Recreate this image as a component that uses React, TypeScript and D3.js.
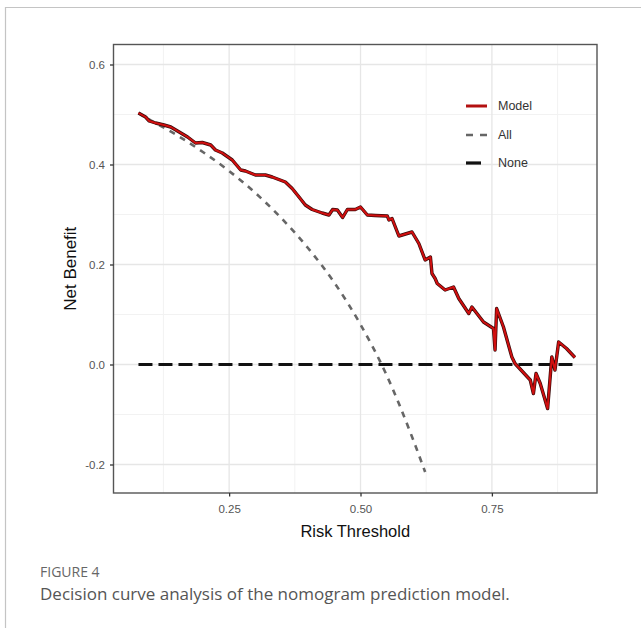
import React, { useEffect, useRef } from 'react';
import * as d3 from 'd3';

// risk thresholds and net benefit
const modelThreshold = [0.0775, 0.091, 0.098, 0.11, 0.126, 0.139, 0.155, 0.171, 0.186, 0.199, 0.215, 0.224, 0.237, 0.256, 0.272, 0.281, 0.3, 0.307, 0.319, 0.332, 0.357, 0.37, 0.383, 0.395, 0.408, 0.427, 0.44, 0.447, 0.456, 0.466, 0.475, 0.49, 0.5, 0.513, 0.528, 0.551, 0.554, 0.56, 0.573, 0.598, 0.611, 0.623, 0.633, 0.636, 0.642, 0.646, 0.661, 0.677, 0.687, 0.706, 0.712, 0.734, 0.753, 0.756, 0.759, 0.772, 0.788, 0.794, 0.823, 0.829, 0.834, 0.842, 0.856, 0.864, 0.87, 0.877, 0.892, 0.908];
const modelBenefit = [0.503, 0.495, 0.487, 0.483, 0.479, 0.475, 0.465, 0.455, 0.443, 0.444, 0.439, 0.429, 0.423, 0.409, 0.389, 0.387, 0.379, 0.379, 0.379, 0.375, 0.365, 0.352, 0.335, 0.319, 0.31, 0.303, 0.299, 0.31, 0.309, 0.294, 0.31, 0.31, 0.315, 0.299, 0.298, 0.297, 0.289, 0.292, 0.257, 0.265, 0.242, 0.209, 0.215, 0.182, 0.172, 0.162, 0.149, 0.155, 0.132, 0.102, 0.115, 0.085, 0.072, 0.029, 0.112, 0.075, 0.015, 0.002, -0.031, -0.058, -0.018, -0.038, -0.088, 0.015, -0.011, 0.045, 0.032, 0.014];

const allThreshold = [0.0775, 0.1, 0.15, 0.2, 0.25, 0.3, 0.35, 0.4, 0.45, 0.5, 0.55, 0.6, 0.623];
const allBenefit = [0.503, 0.489, 0.459, 0.425, 0.387, 0.343, 0.292, 0.233, 0.164, 0.08, -0.022, -0.15, -0.215];

const noneThreshold = [0.0775, 0.908];
const noneBenefit = [0, 0];

const xTicks = [0.25, 0.5, 0.75];
const xMinor = [0.125, 0.375, 0.625, 0.875];
const yTicks = [-0.2, 0, 0.2, 0.4, 0.6];
const yMinor = [-0.1, 0.1, 0.3, 0.5];

const legendNames = ['Model', 'All', 'None'];

const W = 641;
const H = 628;
const left = 113.5;
const right = 597;
const top = 44.5;
const bottom = 493;
const plotFont = '"Liberation Sans", Arial, sans-serif';

function App() {
  const ref = useRef<SVGSVGElement>(null);

  useEffect(() => {
    const svg = d3.select(ref.current);
    svg.selectAll('*').remove();

    const x = d3.scaleLinear().domain([0.03, 0.95]).range([left, right]);
    const y = d3.scaleLinear().domain([-0.257, 0.64]).range([bottom, top]);

    // outer frame of the figure page
    svg.append('path')
      .attr('d', `M5.5,${H} L5.5,7.5 L${W},7.5`)
      .attr('fill', 'none')
      .attr('stroke', '#c4c4c4')
      .attr('stroke-width', 1.2);

    // grid
    const grid = svg.append('g');
    xMinor.forEach(v => grid.append('line')
      .attr('x1', x(v)).attr('x2', x(v)).attr('y1', top).attr('y2', bottom)
      .attr('stroke', '#f2f2f2').attr('stroke-width', 1));
    yMinor.forEach(v => grid.append('line')
      .attr('x1', left).attr('x2', right).attr('y1', y(v)).attr('y2', y(v))
      .attr('stroke', '#f2f2f2').attr('stroke-width', 1));
    xTicks.forEach(v => grid.append('line')
      .attr('x1', x(v)).attr('x2', x(v)).attr('y1', top).attr('y2', bottom)
      .attr('stroke', '#e6e6e6').attr('stroke-width', 1.3));
    yTicks.forEach(v => grid.append('line')
      .attr('x1', left).attr('x2', right).attr('y1', y(v)).attr('y2', y(v))
      .attr('stroke', '#e6e6e6').attr('stroke-width', 1.3));

    const line = d3.line<[number, number]>()
      .x(d => x(d[0]))
      .y(d => y(d[1]));
    const smooth = d3.line<[number, number]>()
      .x(d => x(d[0]))
      .y(d => y(d[1]))
      .curve(d3.curveMonotoneX);

    const noneData = noneThreshold.map((t, i) => [t, noneBenefit[i]] as [number, number]);
    const allData = allThreshold.map((t, i) => [t, allBenefit[i]] as [number, number]);
    const modelData = modelThreshold.map((t, i) => [t, modelBenefit[i]] as [number, number]);

    svg.append('path')
      .attr('d', line(noneData))
      .attr('fill', 'none')
      .attr('stroke', '#111')
      .attr('stroke-width', 3.2)
      .attr('stroke-dasharray', '14,6');

    svg.append('path')
      .attr('d', smooth(allData))
      .attr('fill', 'none')
      .attr('stroke', '#666')
      .attr('stroke-width', 2.6)
      .attr('stroke-dasharray', '6,6');

    svg.append('path')
      .attr('d', line(modelData))
      .attr('fill', 'none')
      .attr('stroke', '#3a0a0a')
      .attr('stroke-width', 3.4)
      .attr('stroke-linejoin', 'round');
    svg.append('path')
      .attr('d', line(modelData))
      .attr('fill', 'none')
      .attr('stroke', '#d10f0f')
      .attr('stroke-width', 2)
      .attr('stroke-linejoin', 'round');

    // panel border
    svg.append('rect')
      .attr('x', left).attr('y', top)
      .attr('width', right - left).attr('height', bottom - top)
      .attr('fill', 'none')
      .attr('stroke', '#555')
      .attr('stroke-width', 1.4);

    // axes (plain hyphen minus, like the R output)
    const xAxis = svg.append('g')
      .attr('transform', `translate(0,${bottom})`)
      .call(d3.axisBottom(x).tickValues(xTicks).tickSize(3.5).tickPadding(8)
        .tickFormat(d => (+d).toFixed(2)));
    const yAxis = svg.append('g')
      .attr('transform', `translate(${left},0)`)
      .call(d3.axisLeft(y).tickValues(yTicks).tickSize(3.5).tickPadding(5)
        .tickFormat(d => (+d).toFixed(1)));
    [xAxis, yAxis].forEach(a => {
      a.attr('font-size', null).attr('font-family', null);
      a.select('.domain').remove();
      a.selectAll('line').attr('stroke', '#333').attr('stroke-width', 1.3);
      a.selectAll('text')
        .attr('fill', '#555')
        .style('font-family', plotFont)
        .style('font-size', '11.5px');
    });

    svg.append('text')
      .attr('x', (left + right) / 2)
      .attr('y', 537)
      .attr('text-anchor', 'middle')
      .style('font-family', plotFont)
      .style('font-size', '16.5px')
      .attr('fill', '#111')
      .text('Risk Threshold');

    svg.append('text')
      .attr('transform', `translate(76,${(top + bottom) / 2}) rotate(-90)`)
      .attr('text-anchor', 'middle')
      .style('font-family', plotFont)
      .style('font-size', '17px')
      .attr('fill', '#111')
      .text('Net Benefit');

    // legend
    const legend = svg.append('g');
    const legendY = [106, 135, 163];
    const keyStyles = [
      { stroke: '#b31010', width: 3, dash: null },
      { stroke: '#666', width: 2.6, dash: '7,7' },
      { stroke: '#111', width: 3.2, dash: null },
    ];
    legendNames.forEach((name, i) => {
      const k = keyStyles[i];
      const ln = legend.append('line')
        .attr('x1', 466).attr('x2', i === 2 ? 481 : 487)
        .attr('y1', legendY[i]).attr('y2', legendY[i])
        .attr('stroke', k.stroke)
        .attr('stroke-width', k.width);
      if (k.dash) ln.attr('stroke-dasharray', k.dash);
      legend.append('text')
        .attr('x', 498)
        .attr('y', legendY[i])
        .attr('dy', '0.35em')
        .style('font-family', plotFont)
        .style('font-size', '12.5px')
        .attr('fill', '#333')
        .text(name);
    });

    // caption
    svg.append('text')
      .attr('x', 40).attr('y', 577)
      .style('font-family', '"Open Sans", sans-serif')
      .style('font-size', '14px')
      .attr('fill', '#666')
      .text('FIGURE 4');
    svg.append('text')
      .attr('x', 40).attr('y', 600)
      .style('font-family', '"Open Sans", sans-serif')
      .style('font-size', '17px')
      .attr('fill', '#555')
      .text('Decision curve analysis of the nomogram prediction model.');
  }, []);

  return (
    <svg ref={ref} width={W} height={H}
      style={{ position: 'absolute', left: 0, top: 0, background: '#fff' }} />
  );
}

export default App;
